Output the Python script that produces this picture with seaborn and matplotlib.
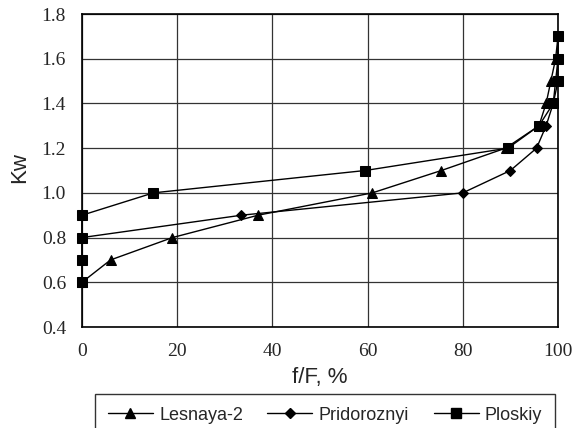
import matplotlib
matplotlib.use("Agg")
import matplotlib.pyplot as plt
import numpy as np
import pandas as pd
import seaborn as sns

# values
kw_levels = [0.6, 0.7, 0.8, 0.9, 1.0, 1.1, 1.2, 1.3, 1.4, 1.5, 1.6, 1.7]
lesnaya_x = [0, 6, 19, 37, 61, 75.5, 89, 96, 97.5, 98.5, 99.5, 100]
lesnaya_y = kw_levels
pridor_x = [0, 33.5, 80, 90, 95.5, 97.5, 99, 99.5, 100, 100]
pridor_y = [0.8, 0.9, 1.0, 1.1, 1.2, 1.3, 1.4, 1.5, 1.6, 1.7]
ploskiy_x = [0, 0, 0, 0, 15, 59.5, 89.5, 96, 99, 100, 100, 100]
ploskiy_y = kw_levels

names = ["Lesnaya-2", "Pridoroznyi", "Ploskiy"]

frames = []
for name, xs, ys in zip(names, [lesnaya_x, pridor_x, ploskiy_x],
                        [lesnaya_y, pridor_y, ploskiy_y]):
    frames.append(pd.DataFrame({"x": xs, "y": ys, "site": name}))
df = pd.concat(frames, ignore_index=True)

sns.set_style("white")
plt.rcParams["font.family"] = ["Liberation Sans", "DejaVu Sans"]

fig = plt.figure(figsize=(5.84, 4.28), dpi=100)
ax = fig.add_axes([82 / 584, 1 - 327 / 428, 476 / 584, 313 / 428])

ax.grid(True, color="#333333", linewidth=0.9)
ax.set_axisbelow(True)

sns.lineplot(data=df, x="x", y="y", hue="site", style="site",
             palette=["black"] * 3,
             markers={"Lesnaya-2": "^", "Pridoroznyi": "D", "Ploskiy": "s"},
             dashes=False, sort=False, estimator=None, units="site",
             linewidth=1.0, markersize=7, markeredgecolor="black",
             ax=ax, legend=False)
for line in ax.lines:
    line.set_clip_on(False)
    if line.get_marker() == "D":
        line.set_markersize(5.5)

ax.set_xlim(0, 100)
ax.set_ylim(0.4, 1.8)
ax.set_xticks(np.arange(0, 101, 20))
ax.set_yticks(np.arange(0.4, 1.81, 0.2))
ax.set_yticklabels([f"{v:.1f}" for v in np.arange(0.4, 1.81, 0.2)])
for lab in ax.get_xticklabels() + ax.get_yticklabels():
    lab.set_family(["Liberation Serif", "DejaVu Serif"])
    lab.set_fontsize(14)
ax.tick_params(direction="out", length=4.5, width=1, color="black")
ax.tick_params(axis="y", pad=7)
ax.tick_params(axis="x", pad=7)

for sp in ax.spines.values():
    sp.set_color("black")
    sp.set_linewidth(1.2)

ax.set_xlabel("f/F, %", fontsize=16)
ax.set_ylabel("Kw", fontsize=16)
ax.xaxis.set_label_coords(0.5, (327 - 377) / 313)
ax.xaxis.label.set_va("center")
ax.yaxis.set_label_coords((20 - 82) / 476, 0.511)
ax.yaxis.label.set_va("center")
ax.yaxis.label.set_ha("center")

handles = [plt.Line2D([], [], color="black", marker=m, markersize=ms, linewidth=1.0)
           for m, ms in [("^", 6.5), ("D", 5), ("s", 6.5)]]
leg_h = 0.09
leg = fig.legend(handles, names, loc="upper left",
                 bbox_to_anchor=(95 / 584, 1 - 394 / 428 - leg_h, 460 / 584, leg_h),
                 mode="expand", ncol=3, frameon=True, fancybox=False, fontsize=13,
                 handlelength=2.5, borderpad=0.7, handletextpad=0.35,
                 borderaxespad=0)
leg.get_frame().set_edgecolor("black")
leg.get_frame().set_linewidth(1.0)

fig.savefig("out.png", dpi=100)
